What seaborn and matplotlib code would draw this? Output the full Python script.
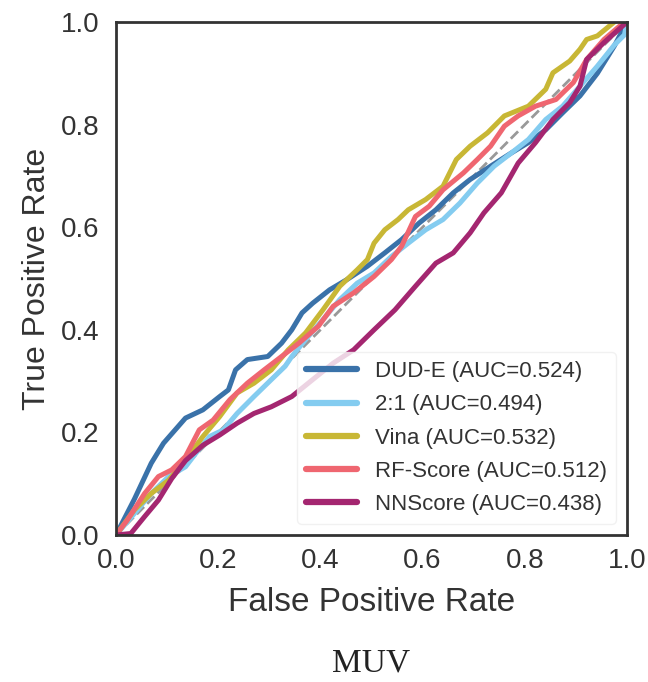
'''
    ROC curves on MUV for docking / scoring functions
'''

# %% Settings
import pandas as pd
import numpy as np

import matplotlib
matplotlib.use('Agg')
import matplotlib.pyplot as plt
import seaborn as sns

# %% Data
methods = ['DUD-E', '2:1', 'Vina', 'RF-Score', 'NNScore']
auc     = [0.524, 0.494, 0.532, 0.512, 0.438]
colors  = ['#3a72a9', '#84ccf0', '#c8b735', '#ef6670', '#a42670']

fpr_dude = [0.0, 0.036, 0.069, 0.093, 0.136, 0.17, 0.203, 0.22, 0.234, 0.257, 0.297, 0.324, 0.344,
            0.364, 0.385, 0.418, 0.452, 0.492, 0.526, 0.559, 0.593, 0.626, 0.66, 0.693, 0.733, 0.774,
            0.807, 0.841, 0.874, 0.908, 0.942, 0.975, 1.0]
tpr_dude = [0.0, 0.07, 0.14, 0.179, 0.228, 0.244, 0.27, 0.283, 0.322, 0.342, 0.348, 0.374, 0.40,
            0.433, 0.452, 0.478, 0.498, 0.524, 0.55, 0.576, 0.608, 0.634, 0.667, 0.693, 0.719, 0.745,
            0.765, 0.79, 0.823, 0.856, 0.90, 0.953, 1.0]

fpr_21 = [0.0, 0.036, 0.069, 0.103, 0.136, 0.156, 0.183, 0.21, 0.237, 0.27, 0.304, 0.331, 0.344, 0.371,
          0.405, 0.438, 0.472, 0.505, 0.539, 0.572, 0.606, 0.64, 0.673, 0.707, 0.74, 0.774, 0.807,
          0.841, 0.874, 0.908, 0.942, 0.975, 0.995, 1.0]
tpr_21 = [0.0, 0.042, 0.081, 0.114, 0.133, 0.159, 0.192, 0.205, 0.237, 0.27, 0.303, 0.329, 0.348, 0.381,
          0.42, 0.459, 0.491, 0.511, 0.543, 0.569, 0.595, 0.615, 0.647, 0.686, 0.719, 0.745, 0.771,
          0.81, 0.836, 0.875, 0.914, 0.955, 0.975, 1.0]

fpr_vina = [0.0, 0.036, 0.069, 0.103, 0.136, 0.17, 0.203, 0.237, 0.27, 0.304, 0.337, 0.371, 0.405,
            0.438, 0.472, 0.492, 0.505, 0.526, 0.552, 0.572, 0.606, 0.64, 0.666, 0.693, 0.727, 0.76,
            0.807, 0.841, 0.855, 0.888, 0.908, 0.921, 0.942, 0.975, 1.0]
tpr_vina = [0.0, 0.049, 0.081, 0.107, 0.146, 0.192, 0.231, 0.277, 0.296, 0.322, 0.361, 0.394, 0.439,
            0.485, 0.517, 0.537, 0.569, 0.595, 0.615, 0.634, 0.654, 0.68, 0.732, 0.758, 0.784, 0.817,
            0.836, 0.869, 0.901, 0.924, 0.947, 0.966, 0.973, 1.0, 1.02]

fpr_rf = [0.0, 0.022, 0.056, 0.083, 0.109, 0.136, 0.163, 0.19, 0.223, 0.257, 0.29, 0.324, 0.358, 0.396,
          0.425, 0.465, 0.505, 0.539, 0.559, 0.586, 0.613, 0.64, 0.68, 0.707, 0.733, 0.76, 0.787,
          0.821, 0.861, 0.895, 0.921, 0.955, 0.989, 1.0]
tpr_rf = [0.0, 0.029, 0.081, 0.114, 0.127, 0.153, 0.205, 0.224, 0.264, 0.296, 0.322, 0.348, 0.374, 0.407,
          0.446, 0.472, 0.504, 0.537, 0.563, 0.621, 0.641, 0.673, 0.706, 0.732, 0.758, 0.797, 0.817,
          0.836, 0.849, 0.882, 0.927, 0.966, 0.995, 1.0]

fpr_nn = [0.0, 0.029, 0.056, 0.083, 0.109, 0.136, 0.17, 0.203, 0.237, 0.27, 0.304, 0.344, 0.385, 0.425,
          0.465, 0.505, 0.546, 0.586, 0.626, 0.66, 0.693, 0.72, 0.754, 0.787, 0.821, 0.855, 0.888,
          0.908, 0.921, 0.955, 1.0]
tpr_nn = [0.0, 0.003, 0.036, 0.068, 0.11, 0.145, 0.175, 0.195, 0.218, 0.237, 0.25, 0.27, 0.303, 0.335,
          0.361, 0.40, 0.439, 0.485, 0.53, 0.55, 0.589, 0.628, 0.667, 0.725, 0.765, 0.81, 0.843,
          0.875, 0.927, 0.96, 1.0]

fprs = [fpr_dude, fpr_21, fpr_vina, fpr_rf, fpr_nn]
tprs = [tpr_dude, tpr_21, tpr_vina, tpr_rf, tpr_nn]

# tidy table for seaborn
frames = []
for name, a, x, y in zip(methods, auc, fprs, tprs):
    frames.append(pd.DataFrame({'fpr': x, 'tpr': y, 'Method': f'{name} (AUC={a:.3f})'}))
roc = pd.concat(frames, ignore_index=True)

# %% Plot
sns.set_theme(style='white')
plt.rcParams['font.family'] = ['Liberation Sans', 'DejaVu Sans']

fig = plt.figure(figsize=(6.48, 6.82), dpi=100)
ax = fig.add_axes([0.179, 0.2155, 0.7886, 0.7522])

ax.plot([0, 1], [0, 1], ls='--', color='#999999', lw=2, zorder=1)
sns.lineplot(data=roc, x='fpr', y='tpr', hue='Method', estimator=None, sort=False,
             palette=colors, linewidth=3.6, ax=ax, zorder=2)

ticks = np.arange(0, 1.01, 0.2)
ax.set_xlim(0, 1)
ax.set_ylim(0, 1)
ax.set_xticks(ticks)
ax.set_yticks(ticks)
ax.set_xticklabels([f'{t:.1f}' for t in ticks])
ax.set_yticklabels([f'{t:.1f}' for t in ticks])
ax.tick_params(labelsize=20, colors='#333333', length=0)
ax.tick_params(axis='x', pad=9)
ax.tick_params(axis='y', pad=12)
ax.set_xlabel('False Positive Rate', fontsize=24, color='#333333', labelpad=10)
ax.set_ylabel('True Positive Rate', fontsize=23, color='#333333', labelpad=6)
for s in ax.spines.values():
    s.set_color('#333333')
    s.set_linewidth(2)

leg = ax.legend(loc='lower right', fontsize=16, handlelength=2.3, borderaxespad=0.5,
                frameon=True, framealpha=0.8, labelspacing=0.55)
leg.get_frame().set_edgecolor('#eeeeee')
for h in leg.get_lines():
    h.set_linewidth(4.5)
for t in leg.get_texts():
    t.set_color('#333333')

fig.text(0.573, 0.005, 'MUV', fontsize=24, family=['Liberation Serif', 'DejaVu Serif'],
         ha='center', va='bottom', color='#222222')

plt.savefig('out.png', dpi=100)
